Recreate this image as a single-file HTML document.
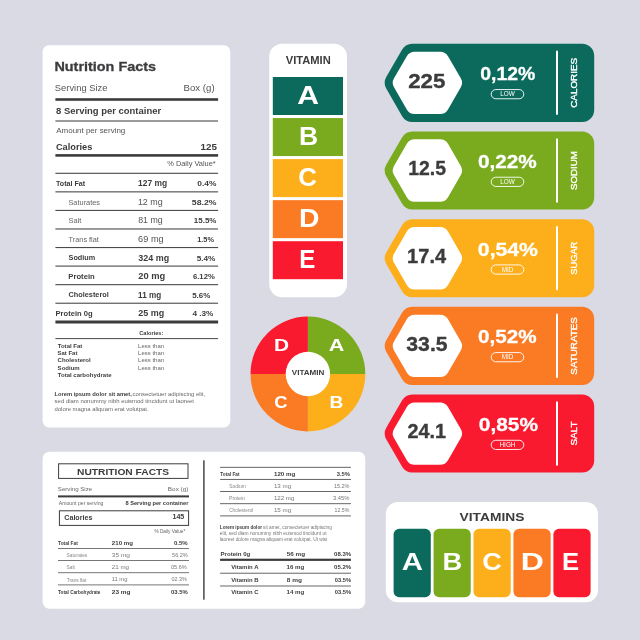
<!DOCTYPE html>
<html lang="en"><head><meta charset="utf-8"><title>Nutrition facts</title>
<style>html,body{margin:0;padding:0;background:#d9dae4;}svg{display:block}</style></head>
<body>
<svg width="640" height="640" viewBox="0 0 640 640" font-family='"Liberation Sans", sans-serif'>
<rect width="640" height="640" fill="#d9dae4"/>
<rect x="42.60" y="45.20" width="187.70" height="382.30" rx="6.5" fill="#fff"/>
<text x="54.44" y="70.60" font-size="13.2" font-weight="700" fill="#3c3c3e" textLength="101.55" lengthAdjust="spacingAndGlyphs" stroke="#3c3c3e" stroke-width="0.3">Nutrition Facts</text>
<text x="54.87" y="91.20" font-size="9" font-weight="400" fill="#555557" textLength="52.54" lengthAdjust="spacingAndGlyphs">Serving Size</text>
<text x="183.61" y="91.20" font-size="9" font-weight="400" fill="#555557" textLength="30.98" lengthAdjust="spacingAndGlyphs">Box (g)</text>
<rect x="55.40" y="98.20" width="162.70" height="2.60" fill="#3c3c3e"/>
<text x="56.00" y="114.30" font-size="8.6" font-weight="700" fill="#3c3c3e" textLength="105.14" lengthAdjust="spacingAndGlyphs">8 Serving per container</text>
<rect x="55.40" y="120.35" width="162.70" height="1.30" fill="#666"/>
<text x="56.28" y="132.60" font-size="6.8" font-weight="400" fill="#555557" textLength="69.03" lengthAdjust="spacingAndGlyphs">Amount per serving</text>
<text x="55.92" y="150.00" font-size="9.6" font-weight="700" fill="#3c3c3e" textLength="36.46" lengthAdjust="spacingAndGlyphs">Calories</text>
<text x="200.48" y="150.00" font-size="9.6" font-weight="700" fill="#3c3c3e" textLength="16.39" lengthAdjust="spacingAndGlyphs">125</text>
<rect x="55.40" y="154.10" width="162.70" height="2.60" fill="#3c3c3e"/>
<text x="167.24" y="165.60" font-size="6.4" font-weight="400" fill="#555557" textLength="48.48" lengthAdjust="spacingAndGlyphs">% Daily Value*</text>
<rect x="55.40" y="172.75" width="162.70" height="1.10" fill="#4a4a4c"/>
<rect x="55.40" y="191.31" width="162.70" height="1.10" fill="#4a4a4c"/>
<rect x="55.40" y="209.87" width="162.70" height="1.10" fill="#4a4a4c"/>
<rect x="55.40" y="228.43" width="162.70" height="1.10" fill="#4a4a4c"/>
<rect x="55.40" y="246.99" width="162.70" height="1.10" fill="#4a4a4c"/>
<rect x="55.40" y="265.55" width="162.70" height="1.10" fill="#4a4a4c"/>
<rect x="55.40" y="284.11" width="162.70" height="1.10" fill="#4a4a4c"/>
<rect x="55.40" y="302.67" width="162.70" height="1.10" fill="#4a4a4c"/>
<text x="56.02" y="186.00" font-size="6.6" font-weight="700" fill="#3c3c3e" textLength="29.16" lengthAdjust="spacingAndGlyphs">Total Fat</text>
<text x="138.07" y="186.30" font-size="8.2" font-weight="700" fill="#3c3c3e" textLength="29.10" lengthAdjust="spacingAndGlyphs">127 mg</text>
<text x="197.37" y="186.30" font-size="8.1" font-weight="700" fill="#3c3c3e" textLength="19.05" lengthAdjust="spacingAndGlyphs">0.4%</text>
<text x="68.46" y="204.56" font-size="6.6" font-weight="400" fill="#666" textLength="31.60" lengthAdjust="spacingAndGlyphs">Saturates</text>
<text x="137.92" y="204.86" font-size="8.2" font-weight="400" fill="#555" textLength="24.75" lengthAdjust="spacingAndGlyphs">12 mg</text>
<text x="191.83" y="204.86" font-size="8.1" font-weight="700" fill="#3c3c3e" textLength="24.60" lengthAdjust="spacingAndGlyphs">58.2%</text>
<text x="68.46" y="223.12" font-size="6.6" font-weight="400" fill="#666" textLength="12.89" lengthAdjust="spacingAndGlyphs">Salt</text>
<text x="138.22" y="223.42" font-size="8.2" font-weight="400" fill="#555" textLength="24.45" lengthAdjust="spacingAndGlyphs">81 mg</text>
<text x="193.80" y="223.42" font-size="8.1" font-weight="700" fill="#3c3c3e" textLength="22.61" lengthAdjust="spacingAndGlyphs">15.5%</text>
<text x="68.64" y="241.68" font-size="6.6" font-weight="400" fill="#666" textLength="30.22" lengthAdjust="spacingAndGlyphs">Trans flat</text>
<text x="138.13" y="241.98" font-size="8.2" font-weight="400" fill="#555" textLength="25.56" lengthAdjust="spacingAndGlyphs">69 mg</text>
<text x="197.24" y="241.98" font-size="8.1" font-weight="700" fill="#3c3c3e" textLength="16.76" lengthAdjust="spacingAndGlyphs">1.5%</text>
<text x="68.59" y="260.24" font-size="6.6" font-weight="700" fill="#3c3c3e" textLength="26.66" lengthAdjust="spacingAndGlyphs">Sodium</text>
<text x="138.39" y="260.54" font-size="8.2" font-weight="700" fill="#3c3c3e" textLength="30.80" lengthAdjust="spacingAndGlyphs">324 mg</text>
<text x="196.65" y="260.54" font-size="8.1" font-weight="700" fill="#3c3c3e" textLength="18.67" lengthAdjust="spacingAndGlyphs">5.4%</text>
<text x="68.29" y="278.80" font-size="6.6" font-weight="700" fill="#3c3c3e" textLength="26.49" lengthAdjust="spacingAndGlyphs">Protein</text>
<text x="138.28" y="279.10" font-size="8.2" font-weight="700" fill="#3c3c3e" textLength="26.95" lengthAdjust="spacingAndGlyphs">20 mg</text>
<text x="192.92" y="279.10" font-size="8.1" font-weight="700" fill="#3c3c3e" textLength="21.89" lengthAdjust="spacingAndGlyphs">6.12%</text>
<text x="68.50" y="297.36" font-size="6.6" font-weight="700" fill="#3c3c3e" textLength="40.32" lengthAdjust="spacingAndGlyphs">Cholesterol</text>
<text x="138.10" y="297.66" font-size="8.2" font-weight="700" fill="#3c3c3e" textLength="23.04" lengthAdjust="spacingAndGlyphs">11 mg</text>
<text x="192.15" y="297.66" font-size="8.1" font-weight="700" fill="#3c3c3e" textLength="18.16" lengthAdjust="spacingAndGlyphs">5.6%</text>
<text x="55.59" y="315.92" font-size="7.2" font-weight="700" fill="#3c3c3e" textLength="37.01" lengthAdjust="spacingAndGlyphs">Protein 0g</text>
<text x="138.29" y="316.22" font-size="8.2" font-weight="700" fill="#3c3c3e" textLength="25.91" lengthAdjust="spacingAndGlyphs">25 mg</text>
<text x="192.48" y="316.22" font-size="8.1" font-weight="700" fill="#3c3c3e" textLength="20.94" lengthAdjust="spacingAndGlyphs">4 .3%</text>
<rect x="55.40" y="320.50" width="162.70" height="3.00" fill="#3c3c3e"/>
<text x="151.30" y="334.70" font-size="5.2" font-weight="700" fill="#3c3c3e" text-anchor="middle" textLength="24.00" lengthAdjust="spacingAndGlyphs">Calories:</text>
<rect x="55.40" y="338.10" width="162.70" height="1.00" fill="#4a4a4c"/>
<text x="57.73" y="347.60" font-size="5.2" font-weight="700" fill="#3c3c3e" textLength="24.64" lengthAdjust="spacingAndGlyphs">Total Fat</text>
<text x="138.11" y="347.60" font-size="5.2" font-weight="400" fill="#666" textLength="25.98" lengthAdjust="spacingAndGlyphs">Less than</text>
<text x="57.63" y="355.02" font-size="5.2" font-weight="700" fill="#3c3c3e" textLength="19.74" lengthAdjust="spacingAndGlyphs">Sat Fat</text>
<text x="138.11" y="355.02" font-size="5.2" font-weight="400" fill="#666" textLength="25.98" lengthAdjust="spacingAndGlyphs">Less than</text>
<text x="57.55" y="362.44" font-size="5.2" font-weight="700" fill="#3c3c3e" textLength="33.17" lengthAdjust="spacingAndGlyphs">Cholesterol</text>
<text x="138.11" y="362.44" font-size="5.2" font-weight="400" fill="#666" textLength="25.98" lengthAdjust="spacingAndGlyphs">Less than</text>
<text x="57.63" y="369.86" font-size="5.2" font-weight="700" fill="#3c3c3e" textLength="22.05" lengthAdjust="spacingAndGlyphs">Sodium</text>
<text x="138.11" y="369.86" font-size="5.2" font-weight="400" fill="#666" textLength="25.98" lengthAdjust="spacingAndGlyphs">Less than</text>
<text x="57.73" y="377.28" font-size="5.2" font-weight="700" fill="#3c3c3e" textLength="53.77" lengthAdjust="spacingAndGlyphs">Total carbohydrate</text>
<text x="54.41" y="396.20" font-size="5.1" font-weight="700" fill="#3c3c3e" textLength="77.47" lengthAdjust="spacingAndGlyphs">Lorem ipsum dolor sit amet,</text>
<text x="132.55" y="396.20" font-size="5.1" font-weight="400" fill="#666" textLength="72.58" lengthAdjust="spacingAndGlyphs">consectetuer adipiscing elit,</text>
<text x="54.63" y="403.40" font-size="5.1" font-weight="400" fill="#666" textLength="139.41" lengthAdjust="spacingAndGlyphs">sed diam nonummy nibh euismod tincidunt ut laoreet</text>
<text x="54.55" y="410.60" font-size="5.1" font-weight="400" fill="#666" textLength="93.99" lengthAdjust="spacingAndGlyphs">dolore magna aliquam erat volutpat.</text>
<rect x="269.20" y="43.80" width="77.80" height="253.40" rx="13" fill="#fff"/>
<text x="285.73" y="64.00" font-size="10.2" font-weight="700" fill="#3c3c3e" textLength="45.01" lengthAdjust="spacingAndGlyphs">VITAMIN</text>
<rect x="272.80" y="77.00" width="70.20" height="38.00" rx="0" fill="#0b6a5c"/>
<text x="297.25" y="104.00" font-size="25.4" font-weight="700" fill="#fff" textLength="21.74" lengthAdjust="spacingAndGlyphs">A</text>
<rect x="272.80" y="118.05" width="70.20" height="38.00" rx="0" fill="#7aab1f"/>
<text x="299.02" y="145.05" font-size="25.4" font-weight="700" fill="#fff" textLength="19.18" lengthAdjust="spacingAndGlyphs">B</text>
<rect x="272.80" y="159.10" width="70.20" height="38.00" rx="0" fill="#fdaf1b"/>
<text x="298.24" y="186.10" font-size="25.4" font-weight="700" fill="#fff" textLength="18.67" lengthAdjust="spacingAndGlyphs">C</text>
<rect x="272.80" y="200.15" width="70.20" height="38.00" rx="0" fill="#fb7a24"/>
<text x="298.90" y="227.15" font-size="25.4" font-weight="700" fill="#fff" textLength="20.49" lengthAdjust="spacingAndGlyphs">D</text>
<rect x="272.80" y="241.20" width="70.20" height="38.00" rx="0" fill="#f91a2f"/>
<text x="299.19" y="268.20" font-size="25.4" font-weight="700" fill="#fff" textLength="16.05" lengthAdjust="spacingAndGlyphs">E</text>
<path d="M307.9 374 L307.90 316.60 A57.4 57.4 0 0 1 365.30 374.00 Z" fill="#7aab1f"/>
<path d="M307.9 374 L365.30 374.00 A57.4 57.4 0 0 1 307.90 431.40 Z" fill="#fdaf1b"/>
<path d="M307.9 374 L307.90 431.40 A57.4 57.4 0 0 1 250.50 374.00 Z" fill="#fb7a24"/>
<path d="M307.9 374 L250.50 374.00 A57.4 57.4 0 0 1 307.90 316.60 Z" fill="#f91a2f"/>
<circle cx="307.9" cy="374" r="22.2" fill="#fff"/>
<text x="274.10" y="350.80" font-size="17.4" font-weight="700" fill="#fff" textLength="15.07" lengthAdjust="spacingAndGlyphs">D</text>
<text x="328.76" y="350.80" font-size="17.4" font-weight="700" fill="#fff" textLength="15.61" lengthAdjust="spacingAndGlyphs">A</text>
<text x="274.25" y="407.70" font-size="17.4" font-weight="700" fill="#fff" textLength="13.25" lengthAdjust="spacingAndGlyphs">C</text>
<text x="329.52" y="407.60" font-size="17.4" font-weight="700" fill="#fff" textLength="13.85" lengthAdjust="spacingAndGlyphs">B</text>
<text x="291.75" y="374.50" font-size="6.8" font-weight="700" fill="#3c3c3e" textLength="32.59" lengthAdjust="spacingAndGlyphs">VITAMIN</text>
<path d="M386.37 88.85 A12 12 0 0 1 386.37 76.85 L401.99 49.80 A12 12 0 0 1 412.38 43.80 L582.20 43.80 A12 12 0 0 1 594.20 55.80 L594.20 109.90 A12 12 0 0 1 582.20 121.90 L412.38 121.90 A12 12 0 0 1 401.99 115.90 Z" fill="#0b6a5c"/>
<path d="M394.00 87.35 A9 9 0 0 1 394.00 78.35 L406.80 56.17 A9 9 0 0 1 414.60 51.67 L440.20 51.67 A9 9 0 0 1 448.00 56.17 L460.80 78.35 A9 9 0 0 1 460.80 87.35 L448.00 109.53 A9 9 0 0 1 440.20 114.03 L414.60 114.03 A9 9 0 0 1 406.80 109.53 Z" fill="#fff"/>
<text x="408.23" y="87.65" font-size="19.8" font-weight="700" fill="#3c3c3e" textLength="37.19" lengthAdjust="spacingAndGlyphs" stroke="#3c3c3e" stroke-width="0.35">225</text>
<text x="480.23" y="80.25" font-size="19.2" font-weight="700" fill="#fff" textLength="55.08" lengthAdjust="spacingAndGlyphs" stroke="#fff" stroke-width="0.3">0,12%</text>
 <rect x="491.2" y="89.55" width="32.6" height="9.2" rx="4.6" fill="none" stroke="#fff" stroke-width="0.9"/>
<text x="507.50" y="96.45" font-size="6.4" font-weight="400" fill="#fff" text-anchor="middle">LOW</text>
<rect x="556" y="50.55" width="2" height="64.4" rx="1" fill="#fff"/>
<text transform="translate(577.4 82.85) rotate(-90)" font-size="9.6" font-weight="400" stroke="#fff" stroke-width="0.35" fill="#fff" text-anchor="middle" textLength="50" lengthAdjust="spacingAndGlyphs">CALORIES</text>
<path d="M386.37 176.53 A12 12 0 0 1 386.37 164.53 L401.99 137.48 A12 12 0 0 1 412.38 131.48 L582.20 131.48 A12 12 0 0 1 594.20 143.48 L594.20 197.58 A12 12 0 0 1 582.20 209.58 L412.38 209.58 A12 12 0 0 1 401.99 203.58 Z" fill="#7aab1f"/>
<path d="M394.00 175.03 A9 9 0 0 1 394.00 166.03 L406.80 143.85 A9 9 0 0 1 414.60 139.35 L440.20 139.35 A9 9 0 0 1 448.00 143.85 L460.80 166.03 A9 9 0 0 1 460.80 175.03 L448.00 197.21 A9 9 0 0 1 440.20 201.71 L414.60 201.71 A9 9 0 0 1 406.80 197.21 Z" fill="#fff"/>
<text x="408.28" y="175.33" font-size="19.8" font-weight="700" fill="#3c3c3e" textLength="37.76" lengthAdjust="spacingAndGlyphs" stroke="#3c3c3e" stroke-width="0.35">12.5</text>
<text x="477.98" y="167.93" font-size="19.2" font-weight="700" fill="#fff" textLength="58.77" lengthAdjust="spacingAndGlyphs" stroke="#fff" stroke-width="0.3">0,22%</text>
 <rect x="491.2" y="177.23" width="32.6" height="9.2" rx="4.6" fill="none" stroke="#fff" stroke-width="0.9"/>
<text x="507.50" y="184.13" font-size="6.4" font-weight="400" fill="#fff" text-anchor="middle">LOW</text>
<rect x="556" y="138.23" width="2" height="64.4" rx="1" fill="#fff"/>
<text transform="translate(577.4 170.53) rotate(-90)" font-size="9.6" font-weight="400" stroke="#fff" stroke-width="0.35" fill="#fff" text-anchor="middle" textLength="39" lengthAdjust="spacingAndGlyphs">SODIUM</text>
<path d="M386.37 264.21 A12 12 0 0 1 386.37 252.21 L401.99 225.16 A12 12 0 0 1 412.38 219.16 L582.20 219.16 A12 12 0 0 1 594.20 231.16 L594.20 285.26 A12 12 0 0 1 582.20 297.26 L412.38 297.26 A12 12 0 0 1 401.99 291.26 Z" fill="#fdaf1b"/>
<path d="M394.00 262.71 A9 9 0 0 1 394.00 253.71 L406.80 231.53 A9 9 0 0 1 414.60 227.03 L440.20 227.03 A9 9 0 0 1 448.00 231.53 L460.80 253.71 A9 9 0 0 1 460.80 262.71 L448.00 284.89 A9 9 0 0 1 440.20 289.39 L414.60 289.39 A9 9 0 0 1 406.80 284.89 Z" fill="#fff"/>
<text x="407.14" y="263.01" font-size="19.8" font-weight="700" fill="#3c3c3e" textLength="38.97" lengthAdjust="spacingAndGlyphs" stroke="#3c3c3e" stroke-width="0.35">17.4</text>
<text x="477.86" y="255.61" font-size="19.2" font-weight="700" fill="#fff" textLength="60.10" lengthAdjust="spacingAndGlyphs" stroke="#fff" stroke-width="0.3">0,54%</text>
 <rect x="491.2" y="264.91" width="32.6" height="9.2" rx="4.6" fill="none" stroke="#fff" stroke-width="0.9"/>
<text x="507.50" y="271.81" font-size="6.4" font-weight="400" fill="#fff" text-anchor="middle">MID</text>
<rect x="556" y="225.91" width="2" height="64.4" rx="1" fill="#fff"/>
<text transform="translate(577.4 258.21) rotate(-90)" font-size="9.6" font-weight="400" stroke="#fff" stroke-width="0.35" fill="#fff" text-anchor="middle" textLength="33" lengthAdjust="spacingAndGlyphs">SUGAR</text>
<path d="M386.37 351.89 A12 12 0 0 1 386.37 339.89 L401.99 312.84 A12 12 0 0 1 412.38 306.84 L582.20 306.84 A12 12 0 0 1 594.20 318.84 L594.20 372.94 A12 12 0 0 1 582.20 384.94 L412.38 384.94 A12 12 0 0 1 401.99 378.94 Z" fill="#fb7a24"/>
<path d="M394.00 350.39 A9 9 0 0 1 394.00 341.39 L406.80 319.21 A9 9 0 0 1 414.60 314.71 L440.20 314.71 A9 9 0 0 1 448.00 319.21 L460.80 341.39 A9 9 0 0 1 460.80 350.39 L448.00 372.57 A9 9 0 0 1 440.20 377.07 L414.60 377.07 A9 9 0 0 1 406.80 372.57 Z" fill="#fff"/>
<text x="406.31" y="350.69" font-size="19.8" font-weight="700" fill="#3c3c3e" textLength="41.28" lengthAdjust="spacingAndGlyphs" stroke="#3c3c3e" stroke-width="0.35">33.5</text>
<text x="477.98" y="343.29" font-size="19.2" font-weight="700" fill="#fff" textLength="58.56" lengthAdjust="spacingAndGlyphs" stroke="#fff" stroke-width="0.3">0,52%</text>
 <rect x="491.2" y="352.59" width="32.6" height="9.2" rx="4.6" fill="none" stroke="#fff" stroke-width="0.9"/>
<text x="507.50" y="359.49" font-size="6.4" font-weight="400" fill="#fff" text-anchor="middle">MID</text>
<rect x="556" y="313.59" width="2" height="64.4" rx="1" fill="#fff"/>
<text transform="translate(577.4 345.89) rotate(-90)" font-size="9.6" font-weight="400" stroke="#fff" stroke-width="0.35" fill="#fff" text-anchor="middle" textLength="57.5" lengthAdjust="spacingAndGlyphs">SATURATES</text>
<path d="M386.37 439.57 A12 12 0 0 1 386.37 427.57 L401.99 400.52 A12 12 0 0 1 412.38 394.52 L582.20 394.52 A12 12 0 0 1 594.20 406.52 L594.20 460.62 A12 12 0 0 1 582.20 472.62 L412.38 472.62 A12 12 0 0 1 401.99 466.62 Z" fill="#f91a2f"/>
<path d="M394.00 438.07 A9 9 0 0 1 394.00 429.07 L406.80 406.89 A9 9 0 0 1 414.60 402.39 L440.20 402.39 A9 9 0 0 1 448.00 406.89 L460.80 429.07 A9 9 0 0 1 460.80 438.07 L448.00 460.25 A9 9 0 0 1 440.20 464.75 L414.60 464.75 A9 9 0 0 1 406.80 460.25 Z" fill="#fff"/>
<text x="407.51" y="438.37" font-size="19.8" font-weight="700" fill="#3c3c3e" textLength="38.54" lengthAdjust="spacingAndGlyphs" stroke="#3c3c3e" stroke-width="0.35">24.1</text>
<text x="478.88" y="430.97" font-size="19.2" font-weight="700" fill="#fff" textLength="59.07" lengthAdjust="spacingAndGlyphs" stroke="#fff" stroke-width="0.3">0,85%</text>
 <rect x="491.2" y="440.27" width="32.6" height="9.2" rx="4.6" fill="none" stroke="#fff" stroke-width="0.9"/>
<text x="507.50" y="447.17" font-size="6.4" font-weight="400" fill="#fff" text-anchor="middle">HIGH</text>
<rect x="556" y="401.27" width="2" height="64.4" rx="1" fill="#fff"/>
<text transform="translate(577.4 433.57) rotate(-90)" font-size="9.6" font-weight="400" stroke="#fff" stroke-width="0.35" fill="#fff" text-anchor="middle" textLength="24" lengthAdjust="spacingAndGlyphs">SALT</text>
<rect x="385.80" y="502.00" width="212.20" height="100.30" rx="12" fill="#fff"/>
<text x="459.61" y="520.60" font-size="10" font-weight="700" fill="#3c3c3e" textLength="64.72" lengthAdjust="spacingAndGlyphs">VITAMINS</text>
<rect x="393.60" y="528.75" width="37.20" height="68.45" rx="5.6" fill="#0b6a5c"/>
<text x="401.77" y="569.70" font-size="24.4" font-weight="700" fill="#fff" textLength="21.21" lengthAdjust="spacingAndGlyphs">A</text>
<rect x="433.55" y="528.75" width="37.20" height="68.45" rx="5.6" fill="#7aab1f"/>
<text x="442.47" y="569.70" font-size="24.4" font-weight="700" fill="#fff" textLength="19.78" lengthAdjust="spacingAndGlyphs">B</text>
<rect x="473.50" y="528.75" width="37.20" height="68.45" rx="5.6" fill="#fdaf1b"/>
<text x="482.19" y="569.70" font-size="24.4" font-weight="700" fill="#fff" textLength="19.55" lengthAdjust="spacingAndGlyphs">C</text>
<rect x="513.45" y="528.75" width="37.20" height="68.45" rx="5.6" fill="#fb7a24"/>
<text x="520.86" y="569.70" font-size="24.4" font-weight="700" fill="#fff" textLength="23.08" lengthAdjust="spacingAndGlyphs">D</text>
<rect x="553.40" y="528.75" width="37.20" height="68.45" rx="5.6" fill="#f91a2f"/>
<text x="562.08" y="569.70" font-size="24.4" font-weight="700" fill="#fff" textLength="17.12" lengthAdjust="spacingAndGlyphs">E</text>
<rect x="42.60" y="451.80" width="322.70" height="156.90" rx="7" fill="#fff"/>
<rect x="58.6" y="463.8" width="129.4" height="14.6" fill="none" stroke="#3c3c3e" stroke-width="1"/>
<text x="123.10" y="474.70" font-size="9.2" font-weight="700" fill="#3c3c3e" text-anchor="middle" textLength="92.00" lengthAdjust="spacingAndGlyphs">NUTRITION FACTS</text>
<text x="57.82" y="491.00" font-size="6.2" font-weight="400" fill="#666" textLength="34.35" lengthAdjust="spacingAndGlyphs">Serving Size</text>
<text x="167.88" y="491.00" font-size="6.2" font-weight="400" fill="#666" textLength="20.52" lengthAdjust="spacingAndGlyphs">Box (g)</text>
<rect x="58.00" y="495.40" width="131.00" height="2.00" fill="#3c3c3e"/>
<text x="58.69" y="504.90" font-size="4.9" font-weight="400" fill="#666" textLength="44.74" lengthAdjust="spacingAndGlyphs">Amount per serving</text>
<text x="125.42" y="504.60" font-size="5.9" font-weight="700" fill="#3c3c3e" textLength="62.97" lengthAdjust="spacingAndGlyphs">8 Serving per container</text>
<rect x="59.4" y="510.8" width="129.2" height="14.6" fill="none" stroke="#3c3c3e" stroke-width="1"/>
<text x="64.31" y="520.30" font-size="7.8" font-weight="700" fill="#3c3c3e" textLength="28.08" lengthAdjust="spacingAndGlyphs">Calories</text>
<text x="172.45" y="518.60" font-size="6.6" font-weight="700" fill="#3c3c3e" textLength="11.84" lengthAdjust="spacingAndGlyphs">145</text>
<text x="154.43" y="532.60" font-size="4.6" font-weight="400" fill="#666" textLength="30.84" lengthAdjust="spacingAndGlyphs">% Daily Value*</text>
<rect x="58.00" y="548.00" width="131.00" height="0.80" fill="#555"/>
<text x="58.05" y="545.00" font-size="4.8" font-weight="700" fill="#3c3c3e" textLength="19.81" lengthAdjust="spacingAndGlyphs">Total Fat</text>
<text x="111.89" y="544.90" font-size="6.0" font-weight="700" fill="#3c3c3e" textLength="21.12" lengthAdjust="spacingAndGlyphs">210 mg</text>
<text x="173.96" y="544.90" font-size="6.0" font-weight="700" fill="#3c3c3e" textLength="13.80" lengthAdjust="spacingAndGlyphs">0.5%</text>
<rect x="58.00" y="560.17" width="131.00" height="0.80" fill="#555"/>
<text x="66.58" y="557.17" font-size="4.6" font-weight="400" fill="#888" textLength="20.69" lengthAdjust="spacingAndGlyphs">Saturates</text>
<text x="111.85" y="557.07" font-size="6.0" font-weight="400" fill="#777" textLength="18.17" lengthAdjust="spacingAndGlyphs">35 mg</text>
<text x="172.08" y="557.07" font-size="6.0" font-weight="400" fill="#777" textLength="15.72" lengthAdjust="spacingAndGlyphs">56.2%</text>
<rect x="58.00" y="572.34" width="131.00" height="0.80" fill="#555"/>
<text x="66.58" y="569.34" font-size="4.6" font-weight="400" fill="#888" textLength="8.25" lengthAdjust="spacingAndGlyphs">Salt</text>
<text x="111.79" y="569.24" font-size="6.0" font-weight="400" fill="#777" textLength="17.21" lengthAdjust="spacingAndGlyphs">21 mg</text>
<text x="170.98" y="569.24" font-size="6.0" font-weight="400" fill="#777" textLength="15.82" lengthAdjust="spacingAndGlyphs">05.6%</text>
<rect x="58.00" y="584.51" width="131.00" height="0.80" fill="#555"/>
<text x="66.69" y="581.51" font-size="4.6" font-weight="400" fill="#888" textLength="19.64" lengthAdjust="spacingAndGlyphs">Trans flat</text>
<text x="111.67" y="581.41" font-size="6.0" font-weight="400" fill="#777" textLength="15.80" lengthAdjust="spacingAndGlyphs">11 mg</text>
<text x="171.39" y="581.41" font-size="6.0" font-weight="400" fill="#777" textLength="15.41" lengthAdjust="spacingAndGlyphs">02.3%</text>
<text x="58.05" y="593.68" font-size="4.8" font-weight="700" fill="#3c3c3e" textLength="42.41" lengthAdjust="spacingAndGlyphs">Total Carbohydrate</text>
<text x="111.88" y="593.58" font-size="6.0" font-weight="700" fill="#3c3c3e" textLength="18.66" lengthAdjust="spacingAndGlyphs">23 mg</text>
<text x="170.97" y="593.58" font-size="6.0" font-weight="700" fill="#3c3c3e" textLength="16.79" lengthAdjust="spacingAndGlyphs">03.5%</text>
<rect x="203.2" y="460.3" width="1.4" height="139.4" fill="#3c3c3e"/>
<rect x="220.10" y="466.85" width="130.80" height="0.90" fill="#555"/>
<rect x="220.10" y="478.95" width="130.80" height="0.90" fill="#555"/>
<rect x="220.10" y="491.05" width="130.80" height="0.90" fill="#555"/>
<rect x="220.10" y="503.25" width="130.80" height="0.90" fill="#555"/>
<rect x="220.10" y="515.45" width="130.80" height="0.90" fill="#555"/>
<text x="220.35" y="475.80" font-size="4.8" font-weight="700" fill="#3c3c3e" textLength="19.21" lengthAdjust="spacingAndGlyphs">Total Fat</text>
<text x="274.01" y="475.90" font-size="6.0" font-weight="700" fill="#3c3c3e" textLength="21.30" lengthAdjust="spacingAndGlyphs">120 mg</text>
<text x="336.67" y="475.90" font-size="6.0" font-weight="700" fill="#3c3c3e" textLength="13.29" lengthAdjust="spacingAndGlyphs">3.5%</text>
<text x="229.18" y="487.85" font-size="4.6" font-weight="400" fill="#888" textLength="16.54" lengthAdjust="spacingAndGlyphs">Sodium</text>
<text x="273.93" y="488.05" font-size="6.0" font-weight="400" fill="#777" textLength="17.17" lengthAdjust="spacingAndGlyphs">13 mg</text>
<text x="333.88" y="488.05" font-size="6.0" font-weight="400" fill="#777" textLength="15.51" lengthAdjust="spacingAndGlyphs">15.2%</text>
<text x="228.98" y="500.00" font-size="4.6" font-weight="400" fill="#888" textLength="16.25" lengthAdjust="spacingAndGlyphs">Protein</text>
<text x="273.94" y="500.20" font-size="6.0" font-weight="400" fill="#777" textLength="20.36" lengthAdjust="spacingAndGlyphs">122 mg</text>
<text x="332.98" y="500.20" font-size="6.0" font-weight="400" fill="#777" textLength="16.43" lengthAdjust="spacingAndGlyphs">3.45%</text>
<text x="229.16" y="512.15" font-size="4.6" font-weight="400" fill="#888" textLength="24.06" lengthAdjust="spacingAndGlyphs">Cholesterol</text>
<text x="273.93" y="512.35" font-size="6.0" font-weight="400" fill="#777" textLength="17.17" lengthAdjust="spacingAndGlyphs">15 mg</text>
<text x="334.60" y="512.35" font-size="6.0" font-weight="400" fill="#777" textLength="14.78" lengthAdjust="spacingAndGlyphs">12.5%</text>
<text x="219.79" y="528.90" font-size="4.5" font-weight="700" fill="#3c3c3e" textLength="42.28" lengthAdjust="spacingAndGlyphs">Lorem ipsum dolor</text>
<text x="263.07" y="528.90" font-size="4.5" font-weight="400" fill="#777" textLength="68.74" lengthAdjust="spacingAndGlyphs">sit amet, consectetuer adipiscing</text>
<text x="219.89" y="535.20" font-size="4.5" font-weight="400" fill="#777" textLength="106.64" lengthAdjust="spacingAndGlyphs">elit, sed diam nonummy nibh euismod tincidunt ut</text>
<text x="219.78" y="541.40" font-size="4.5" font-weight="400" fill="#777" textLength="107.54" lengthAdjust="spacingAndGlyphs">laoreet dolore magna aliquam erat volutpat. Ut wisi</text>
<text x="220.49" y="555.70" font-size="6.0" font-weight="700" fill="#3c3c3e" textLength="29.82" lengthAdjust="spacingAndGlyphs">Protein 0g</text>
<text x="286.81" y="555.70" font-size="6.0" font-weight="700" fill="#3c3c3e" textLength="18.32" lengthAdjust="spacingAndGlyphs">56 mg</text>
<text x="334.06" y="555.70" font-size="6.0" font-weight="700" fill="#3c3c3e" textLength="17.00" lengthAdjust="spacingAndGlyphs">08.3%</text>
<rect x="220.10" y="558.70" width="130.80" height="2.20" fill="#3c3c3e"/>
<text x="231.26" y="568.80" font-size="6.2" font-weight="700" fill="#3c3c3e" textLength="27.20" lengthAdjust="spacingAndGlyphs">Vitamin A</text>
<text x="286.61" y="568.80" font-size="6.2" font-weight="700" fill="#3c3c3e" textLength="17.70" lengthAdjust="spacingAndGlyphs">16 mg</text>
<text x="334.06" y="568.80" font-size="6.2" font-weight="700" fill="#3c3c3e" textLength="17.00" lengthAdjust="spacingAndGlyphs">05.2%</text>
<rect x="220.10" y="572.75" width="130.80" height="0.90" fill="#555"/>
<text x="231.26" y="581.60" font-size="6.2" font-weight="700" fill="#3c3c3e" textLength="27.31" lengthAdjust="spacingAndGlyphs">Vitamin B</text>
<text x="286.79" y="581.60" font-size="6.2" font-weight="700" fill="#3c3c3e" textLength="15.14" lengthAdjust="spacingAndGlyphs">8 mg</text>
<text x="334.77" y="581.60" font-size="6.2" font-weight="700" fill="#3c3c3e" textLength="16.28" lengthAdjust="spacingAndGlyphs">03.5%</text>
<rect x="220.10" y="585.55" width="130.80" height="0.90" fill="#555"/>
<text x="231.26" y="594.40" font-size="6.2" font-weight="700" fill="#3c3c3e" textLength="27.20" lengthAdjust="spacingAndGlyphs">Vitamin C</text>
<text x="286.61" y="594.40" font-size="6.2" font-weight="700" fill="#3c3c3e" textLength="17.70" lengthAdjust="spacingAndGlyphs">14 mg</text>
<text x="334.77" y="594.40" font-size="6.2" font-weight="700" fill="#3c3c3e" textLength="16.28" lengthAdjust="spacingAndGlyphs">03.5%</text>
</svg>
</body></html>
